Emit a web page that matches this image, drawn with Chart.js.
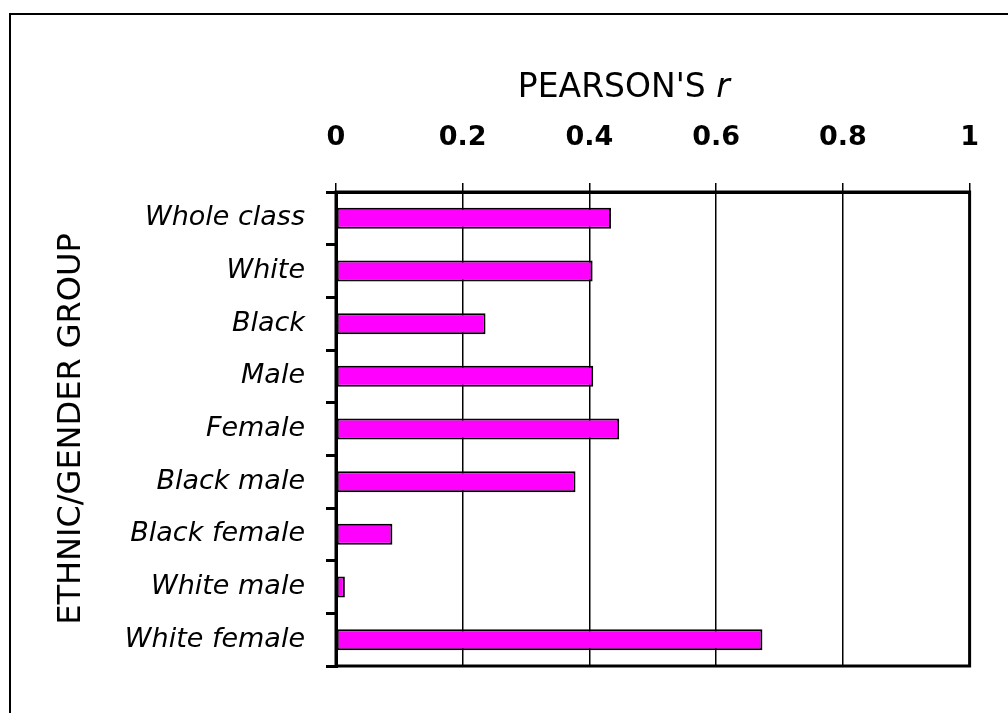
<!DOCTYPE html>
<html>
<head>
<meta charset="utf-8">
<script src="https://cdn.jsdelivr.net/npm/chart.js@4.4.0/dist/chart.umd.min.js"></script>
<style>
  html, body { margin: 0; padding: 0; background: #ffffff; }
  #wrap { width: 1008px; height: 713px; position: relative; }
</style>
</head>
<body>
<div id="wrap"><canvas id="c" width="1008" height="713"></canvas></div>
<script>
// ---- data ----
const categories = ['Whole class', 'White', 'Black', 'Male', 'Female', 'Black male', 'Black female', 'White male', 'White female'];
const pearsonR = [0.434, 0.405, 0.236, 0.406, 0.447, 0.378, 0.089, 0.014, 0.673];
const xTickValues = [0, 0.2, 0.4, 0.6, 0.8, 1];
const xTitleMain = "PEARSON'S ";
const xTitleItalic = 'r';
const yTitle = 'ETHNIC/GENDER GROUP';

const FONT = "'DejaVu Sans', 'Liberation Sans', sans-serif";

const framePlugin = {
  id: 'frame',
  beforeDraw(chart) {
    const ctx = chart.ctx;
    ctx.save();
    ctx.fillStyle = '#ffffff';
    ctx.fillRect(0, 0, chart.width, chart.height);
    ctx.strokeStyle = '#000000';
    ctx.lineWidth = 2;
    ctx.strokeRect(10, 14, chart.width + 20, chart.height + 20);
    ctx.restore();
  },
  afterDatasetsDraw(chart) {
    const a = chart.chartArea;
    const ctx = chart.ctx;
    ctx.save();
    ctx.strokeStyle = '#000000';
    ctx.lineWidth = 3;
    ctx.strokeRect(a.left, a.top, a.right - a.left, a.bottom - a.top);
    ctx.restore();
  },
  afterDraw(chart) {
    const a = chart.chartArea;
    const ctx = chart.ctx;
    ctx.save();
    ctx.fillStyle = '#000000';
    ctx.textBaseline = 'alphabetic';
    const fMain = "33px " + FONT;
    const fIt = "italic 33px " + FONT;
    ctx.font = fMain;
    const w1 = ctx.measureText(xTitleMain).width;
    ctx.font = fIt;
    const w2 = ctx.measureText(xTitleItalic).width;
    const cx = (a.left + a.right) / 2 - 29;
    const x0 = cx - (w1 + w2) / 2;
    const y = a.top - 95;
    ctx.font = fMain;
    ctx.textAlign = 'left';
    ctx.fillText(xTitleMain, x0, y);
    ctx.font = fIt;
    ctx.fillText(xTitleItalic, x0 + w1, y);
    ctx.restore();
  }
};

new Chart(document.getElementById('c'), {
  type: 'bar',
  data: {
    labels: categories,
    datasets: [{
      data: pearsonR,
      backgroundColor: '#FF00FF',
      borderColor: '#000000',
      borderWidth: 2,
      borderSkipped: false,
      barPercentage: 0.4,
      categoryPercentage: 1.0
    }]
  },
  options: {
    indexAxis: 'y',
    responsive: false,
    animation: false,
    devicePixelRatio: 1,
    layout: { padding: { left: 0, top: 0, right: 32, bottom: 47 } },
    plugins: {
      legend: { display: false },
      tooltip: { enabled: false },
      title: { display: false }
    },
    scales: {
      x: {
        type: 'linear',
        position: 'top',
        min: 0,
        max: 1,
        afterBuildTicks(scale) { scale.ticks = xTickValues.map(v => ({ value: v })); },
        afterFit(scale) { scale.height = 192; },
        ticks: {
          color: '#000000',
          font: { family: FONT, size: 27, weight: 'bold' },
          padding: 29,
          callback: (v) => String(Math.round(v * 10) / 10)
        },
        grid: {
          color: '#000000',
          lineWidth: 1.5,
          tickLength: 9,
          drawOnChartArea: true,
          drawTicks: true
        },
        border: { display: true, color: '#000000', width: 3 }
      },
      y: {
        type: 'category',
        afterFit(scale) { scale.width = 336; },
        ticks: {
          color: '#000000',
          font: { family: FONT, size: 27, style: 'italic' },
          padding: 21
        },
        grid: {
          offset: true,
          color: '#000000',
          lineWidth: 3,
          tickLength: 10,
          drawOnChartArea: false,
          drawTicks: true
        },
        border: { display: true, color: '#000000', width: 3 },
        title: {
          display: true,
          text: yTitle,
          color: '#000000',
          font: { family: FONT, size: 32, weight: 'normal' },
          padding: { top: 52, bottom: 0 }
        }
      }
    }
  },
  plugins: [framePlugin]
});
</script>
</body>
</html>
